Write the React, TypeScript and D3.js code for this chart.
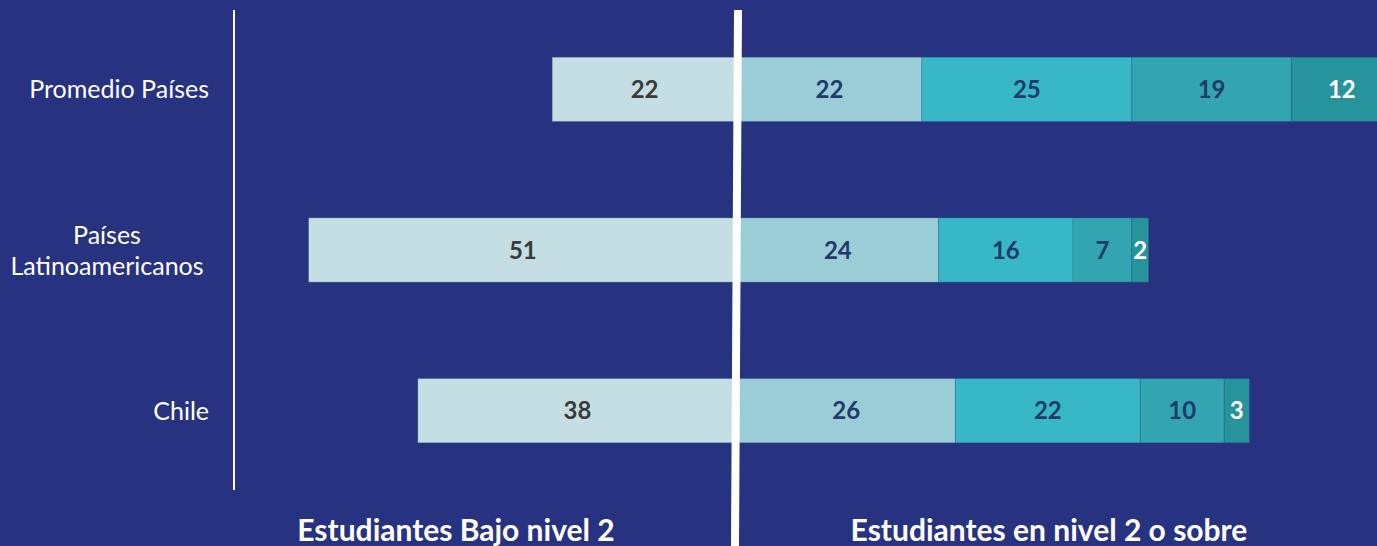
import { useEffect, useRef } from 'react'
import * as d3 from 'd3'

const categories = ['Promedio Países', 'Países Latinoamericanos', 'Chile']
const categoryLines = [['Promedio Países'], ['Países', 'Latinoamericanos'], ['Chile']]
const belowLevel2 = [22, 51, 38]
const level2 = [22, 24, 26]
const level3 = [25, 16, 22]
const level4 = [19, 7, 10]
const level5plus = [12, 2, 3]
const groupLabels = ['Estudiantes Bajo nivel 2', 'Estudiantes en nivel 2 o sobre']

const segColors = ['#c4dee3', '#9bcdd6', '#38b8c6', '#33a5b0', '#27939b']
const textColors = ['#3a3a3a', '#1f3a6b', '#1f3a6b', '#1f3a6b', '#ffffff']

export default function App() {
  const svgRef = useRef<SVGSVGElement>(null)
  const width = 1377
  const height = 546

  useEffect(() => {
    if (!svgRef.current) return
    const svg = d3.select(svgRef.current)
    svg.selectAll('*').remove()

    svg.append('rect').attr('width', width).attr('height', height).attr('fill', '#273381')

    const x = d3.scaleLinear().domain([-60, 76]).range([233, 1375.4])
    const y = d3.scaleBand().domain(categories).range([9, 491]).paddingInner(0.6).paddingOuter(0.3)

    const font = 'Lato, "Open Sans", sans-serif'

    categories.forEach((cat, i) => {
      const y0 = y(cat)!
      const h = y.bandwidth()
      const segs = [
        { from: -belowLevel2[i], to: 0, v: belowLevel2[i] },
      ]
      let acc = 0
      ;[level2[i], level3[i], level4[i], level5plus[i]].forEach(v => {
        segs.push({ from: acc, to: acc + v, v })
        acc += v
      })
      segs.forEach((s, k) => {
        svg.append('rect')
          .attr('x', x(s.from))
          .attr('y', y0)
          .attr('width', x(s.to) - x(s.from))
          .attr('height', h)
          .attr('fill', segColors[k])
          .attr('stroke', 'rgba(30,80,120,0.25)')
          .attr('stroke-width', 1)
        svg.append('text')
          .attr('x', (x(s.from) + x(s.to)) / 2)
          .attr('y', y0 + h / 2)
          .attr('dy', '0.36em')
          .attr('text-anchor', 'middle')
          .attr('font-family', font)
          .attr('font-weight', 'bold')
          .attr('font-size', 24)
          .attr('fill', textColors[k])
          .text(s.v)
      })

      const lines = categoryLines[i]
      const t = svg.append('text')
        .attr('font-family', font)
        .attr('font-size', 25)
        .attr('fill', '#ffffff')
      if (lines.length === 1) {
        t.attr('x', 209).attr('y', y0 + h / 2).attr('dy', '0.36em').attr('text-anchor', 'end').text(lines[0])
      } else {
        lines.forEach((ln, j) => {
          t.append('tspan')
            .attr('x', 107)
            .attr('y', y0 + h / 2 + (j - 0.5) * 31)
            .attr('dy', '0.36em')
            .attr('text-anchor', 'middle')
            .text(ln)
        })
      }
    })

    // left axis line
    svg.append('line')
      .attr('x1', 234).attr('x2', 234).attr('y1', 10).attr('y2', 490)
      .attr('stroke', '#ffffff').attr('stroke-width', 2)

    // center divider
    svg.append('polygon')
      .attr('points', `${x(0) - 3},10 ${x(0) + 5},10 ${x(0) + 2},546 ${x(0) - 6},546`)
      .attr('fill', '#ffffff')

    const gx = [456, 1049]
    groupLabels.forEach((lab, i) => {
      svg.append('text')
        .attr('x', gx[i])
        .attr('y', 541)
        .attr('text-anchor', 'middle')
        .attr('font-family', font)
        .attr('font-weight', 'bold')
        .attr('font-size', 30)
        .attr('fill', '#ffffff')
        .text(lab)
    })
  }, [])

  return (
    <svg ref={svgRef} width={width} height={height} style={{ display: 'block', position: 'absolute', left: 0, top: 0 }} />
  )
}
